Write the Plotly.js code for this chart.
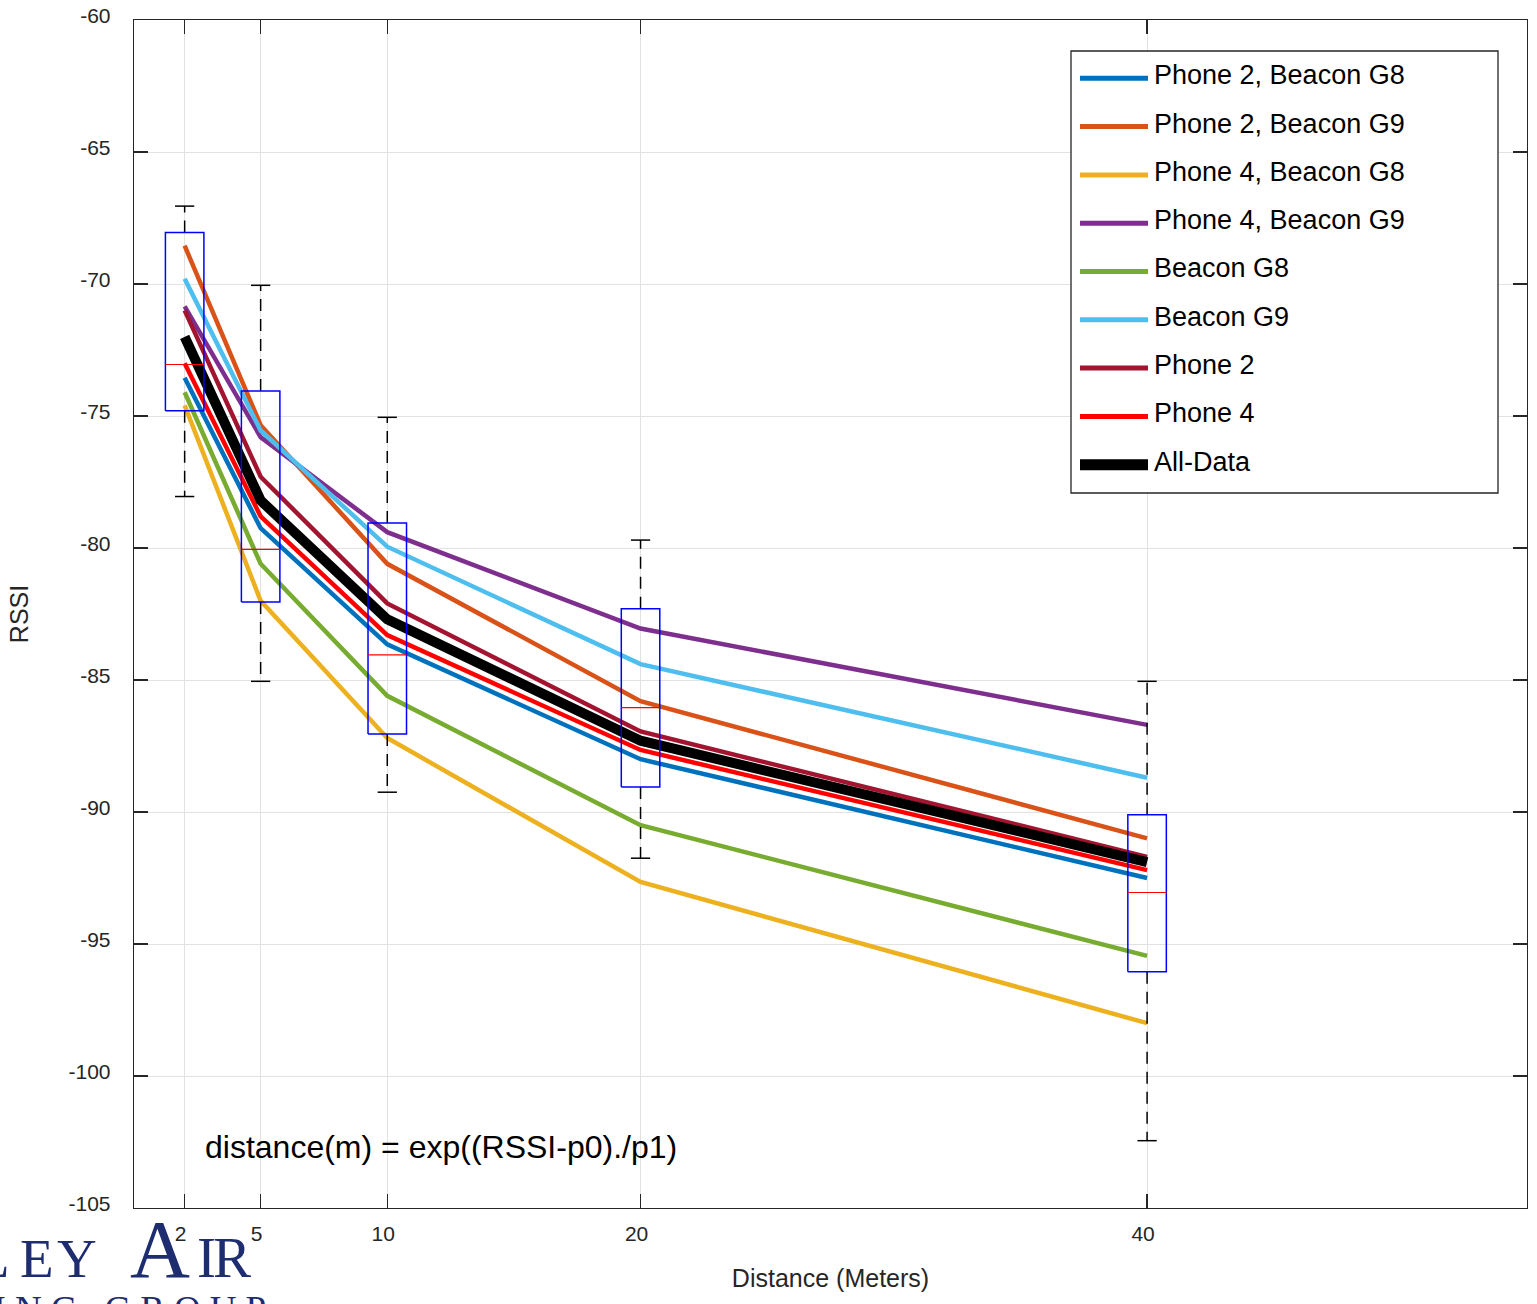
<!DOCTYPE html>
<html>
<head>
<meta charset="utf-8">
<script src="https://cdn.plot.ly/plotly-3.0.1.min.js"></script>
<style>
html, body { margin: 0; padding: 0; background: #ffffff; }
#chart { width: 1537px; height: 1304px; }
</style>
</head>
<body>
<div id="chart"></div>
<script>
// ---------------- DATA ----------------
const distances = [2, 5, 10, 20, 40];
const xTickLabels = ['2', '5', '10', '20', '40'];
const yTickValues = [-105, -100, -95, -90, -85, -80, -75, -70, -65, -60];
const yTickLabels = ['-105', '-100', '-95', '-90', '-85', '-80', '-75', '-70', '-65', '-60'];

const seriesNames = ['Phone 2, Beacon G8', 'Phone 2, Beacon G9', 'Phone 4, Beacon G8', 'Phone 4, Beacon G9',
                     'Beacon G8', 'Beacon G9', 'Phone 2', 'Phone 4', 'All-Data'];
const phone2BeaconG8 = [-73.55, -79.25, -83.65, -88.0, -92.5];
const phone2BeaconG9 = [-68.55, -75.35, -80.6, -85.8, -91.0];
const phone4BeaconG8 = [-74.6, -82.0, -87.2, -92.65, -98.0];
const phone4BeaconG9 = [-70.85, -75.8, -79.4, -83.05, -86.7];
const beaconG8 = [-74.1, -80.6, -85.6, -90.5, -95.45];
const beaconG9 = [-69.8, -75.55, -79.95, -84.4, -88.7];
const phone2 = [-71.0, -77.3, -82.1, -86.95, -91.7];
const phone4 = [-73.0, -78.8, -83.3, -87.65, -92.2];
const allData = [-72.0, -78.2, -82.7, -87.3, -91.9];

// box plot statistics at each distance
const boxLowerWhisker = [-78.05, -85.05, -89.25, -91.75, -102.45];
const boxQ1 = [-74.8, -82.05, -87.05, -89.05, -96.05];
const boxMedian = [-73.05, -80.05, -84.05, -86.05, -93.05];
const boxQ3 = [-68.05, -74.05, -79.05, -82.3, -90.1];
const boxUpperWhisker = [-67.05, -70.05, -75.05, -79.7, -85.05];

const formulaText = 'distance(m) = exp((RSSI-p0)./p1)';
const xTitle = 'Distance (Meters)';
const yTitle = 'RSSI';

// ---------------- STYLE ----------------
const seriesData = [phone2BeaconG8, phone2BeaconG9, phone4BeaconG8, phone4BeaconG9,
                    beaconG8, beaconG9, phone2, phone4, allData];
const seriesColors = ['#0072BD', '#D95319', '#EDB120', '#7E2F8E', '#77AC30', '#4DBEEE', '#A2142F', '#FF0000', '#000000'];
const seriesWidths = [4.5, 4.5, 4.5, 4.5, 4.5, 4.5, 4.5, 4.5, 10];
const legendWidths = [5, 5, 5, 5, 5, 5, 5, 5, 11];

const FONT = 'Liberation Sans, Arial, Helvetica, sans-serif';
const SERIF = 'Liberation Serif, Times New Roman, serif';
const AXIS_COLOR = '#262626';
const LOGO_COLOR = '#1e2c70';

// plot area in pixels
const M = { l: 134, r: 10, t: 20, b: 96 };
const FIG_W = 1537, FIG_H = 1304;
const PW = FIG_W - M.l - M.r, PH = FIG_H - M.t - M.b;
const px = x => (x - M.l) / PW;
const py = y => (M.t + PH - y) / PH;

const BOX_HALF = 0.76;   // box half width, x units
const CAP_HALF = 0.38;   // whisker cap half width, x units

// ---------------- TRACES ----------------
const traces = [];
seriesData.forEach((ys, i) => {
  traces.push({
    type: 'scatter', mode: 'lines', name: seriesNames[i],
    x: distances, y: ys,
    line: { color: seriesColors[i], width: seriesWidths[i] },
    showlegend: false, hoverinfo: 'x+y+name'
  });
});

// box plot drawn from the statistics arrays
const bx = [], by = [], mx = [], my = [], wx = [], wy = [], cx = [], cy = [];
distances.forEach((d, i) => {
  bx.push(d - BOX_HALF, d + BOX_HALF, d + BOX_HALF, d - BOX_HALF, d - BOX_HALF, null);
  by.push(boxQ1[i], boxQ1[i], boxQ3[i], boxQ3[i], boxQ1[i], null);
  mx.push(d - BOX_HALF, d + BOX_HALF, null);
  my.push(boxMedian[i], boxMedian[i], null);
  wx.push(d, d, null, d, d, null);
  wy.push(boxQ3[i], boxUpperWhisker[i], null, boxQ1[i], boxLowerWhisker[i], null);
  cx.push(d - CAP_HALF, d + CAP_HALF, null, d - CAP_HALF, d + CAP_HALF, null);
  cy.push(boxUpperWhisker[i], boxUpperWhisker[i], null, boxLowerWhisker[i], boxLowerWhisker[i], null);
});
traces.push({ type: 'scatter', mode: 'lines', x: wx, y: wy, line: { color: '#000000', width: 1.5, dash: '12px,8px' }, showlegend: false, hoverinfo: 'skip' });
traces.push({ type: 'scatter', mode: 'lines', x: cx, y: cy, line: { color: '#000000', width: 1.5 }, showlegend: false, hoverinfo: 'skip' });
traces.push({ type: 'scatter', mode: 'lines', x: bx, y: by, line: { color: '#0000FF', width: 1.5 }, showlegend: false, hoverinfo: 'skip' });
traces.push({ type: 'scatter', mode: 'lines', x: mx, y: my, line: { color: '#FF0000', width: 1.2 }, showlegend: false, hoverinfo: 'skip' });

// ---------------- CUSTOM LEGEND ----------------
const shapes = [];
const annotations = [];
const LEG = { x0: 1071, x1: 1498, y0: 51, y1: 493, sx0: 1080, sx1: 1148, tx: 1152, firstY: 78.3, step: 48.3 };
shapes.push({ type: 'rect', xref: 'paper', yref: 'paper', x0: px(LEG.x0), x1: px(LEG.x1), y0: py(LEG.y1), y1: py(LEG.y0),
  line: { color: AXIS_COLOR, width: 1.3 }, fillcolor: '#ffffff', layer: 'above' });
seriesNames.forEach((name, i) => {
  const yy = LEG.firstY + LEG.step * i;
  shapes.push({ type: 'line', xref: 'paper', yref: 'paper', x0: px(LEG.sx0), x1: px(LEG.sx1), y0: py(yy), y1: py(yy),
    line: { color: seriesColors[i], width: legendWidths[i] }, layer: 'above' });
  annotations.push({ xref: 'paper', yref: 'paper', x: px(LEG.tx), y: py(yy - 3), xanchor: 'left', yanchor: 'middle',
    text: name, showarrow: false, font: { family: FONT, size: 27, color: '#000000' } });
});

// formula text
annotations.push({ xref: 'paper', yref: 'paper', x: px(203), y: py(1147), xanchor: 'left', yanchor: 'middle',
  text: formulaText, showarrow: false, font: { family: FONT, size: 32, color: '#000000' } });

// logo (partially cropped at bottom-left in the reference)
const logoLetters = [
  { t: 'L', x: -26, s: 55 }, { t: 'E', x: 18, s: 55 }, { t: 'Y', x: 55, s: 55 },
  { t: 'A', x: 128, s: 83 }, { t: 'I', x: 195, s: 57 }, { t: 'R', x: 211, s: 57 }
];
logoLetters.forEach(l => {
  annotations.push({ xref: 'paper', yref: 'paper', x: px(l.x), y: py(1278 + 0.216 * l.s + 1), xanchor: 'left', yanchor: 'bottom',
    text: l.t, showarrow: false, font: { family: SERIF, size: l.s, color: LOGO_COLOR } });
});
annotations.push({ xref: 'paper', yref: 'paper', x: px(-40), y: py(1287), xanchor: 'left', yanchor: 'top',
  text: '<span style="letter-spacing:9px">TING GROUP</span>', showarrow: false,
  font: { family: SERIF, size: 37, color: LOGO_COLOR } });

// ---------------- LAYOUT ----------------
const axisCommon = {
  showgrid: true, gridcolor: '#e2e2e2', gridwidth: 1,
  zeroline: false, showline: true, linecolor: AXIS_COLOR, linewidth: 1.3,
  mirror: 'ticks', ticks: 'inside', ticklen: 14, tickwidth: 1.3, tickcolor: AXIS_COLOR,
  tickfont: { family: FONT, size: 21, color: AXIS_COLOR }, tickmode: 'array', fixedrange: true
};

const layout = {
  width: FIG_W, height: FIG_H,
  margin: M,
  paper_bgcolor: '#ffffff', plot_bgcolor: '#ffffff',
  showlegend: false,
  xaxis: Object.assign({}, axisCommon, {
    range: [0, 55], tickvals: distances, ticktext: xTickLabels,
    ticklabelstandoff: 6, ticklabelshift: -4,
    title: { text: xTitle, font: { family: FONT, size: 25, color: AXIS_COLOR }, standoff: 26 }
  }),
  yaxis: Object.assign({}, axisCommon, {
    range: [-105, -60], tickvals: yTickValues, ticktext: yTickLabels,
    ticklabelstandoff: 18, ticklabelshift: -4,
    title: { text: yTitle, font: { family: FONT, size: 25, color: AXIS_COLOR }, standoff: 32 }
  }),
  shapes: shapes,
  annotations: annotations
};

Plotly.newPlot('chart', traces, layout, { staticPlot: true, displayModeBar: false });
</script>
</body>
</html>
